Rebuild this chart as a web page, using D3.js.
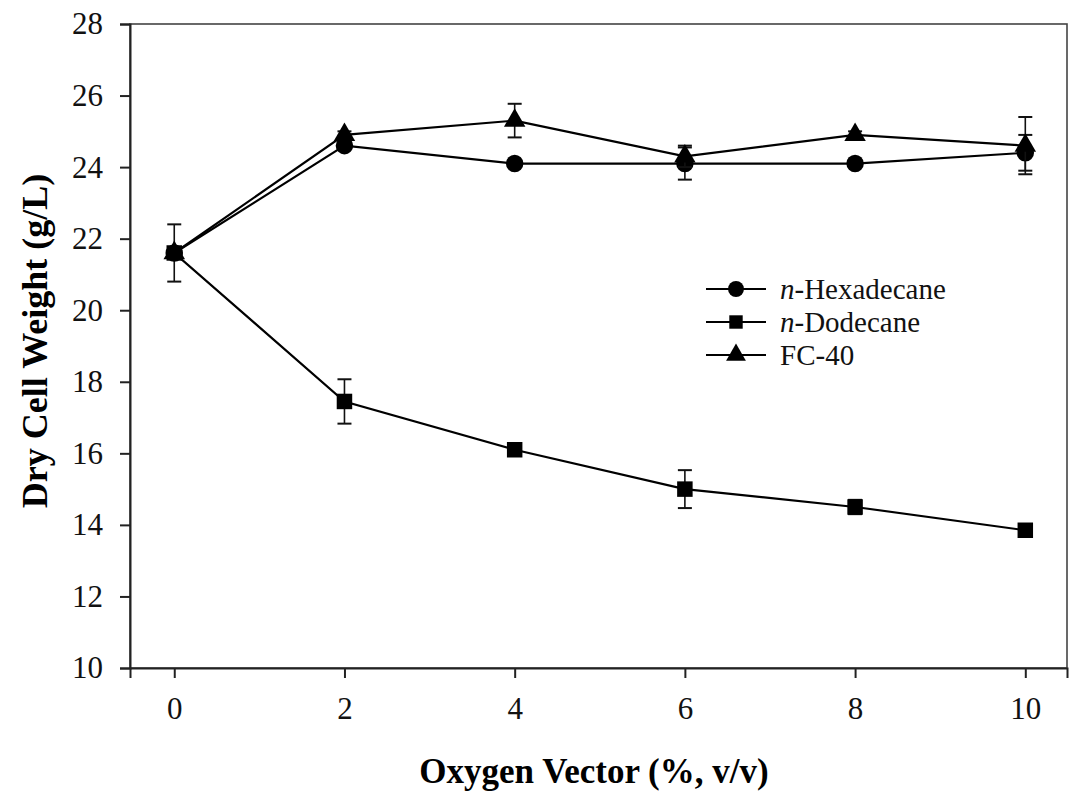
<!DOCTYPE html>
<html>
<head>
<meta charset="utf-8">
<script src="https://cdn.jsdelivr.net/npm/d3@7"></script>
<style>
  body { margin: 0; background: #fff; }
  svg { display: block; font-family: "Liberation Serif", "Times New Roman", serif; }
</style>
</head>
<body>
<div id="showBox"></div>
<script>
// oxygen vector concentration (%, v/v)
const xVals = [0, 2, 4, 6, 8, 10];
const xTicks = [0, 2, 4, 6, 8, 10];
const yTicks = [10, 12, 14, 16, 18, 20, 22, 24, 26, 28];

// dry cell weight (g/L) and std deviation
const hexadecane = [21.6, 24.6, 24.1, 24.1, 24.1, 24.4];
const hexadecaneErr = [0.8, 0.1, 0.1, 0.45, 0.1, 0.5];
const dodecane = [21.6, 17.45, 16.1, 15.0, 14.5, 13.85];
const dodecaneErr = [0, 0.62, 0.1, 0.53, 0.2, 0.1];
const fc40 = [21.6, 24.9, 25.3, 24.3, 24.9, 24.6];
const fc40Err = [0, 0.1, 0.47, 0.3, 0.1, 0.8];

const seriesNames = ["n-Hexadecane", "n-Dodecane", "FC-40"];

const width = 1069, height = 795;
const margin = {top: 24, right: 2, bottom: 127, left: 130};

const x = d3.scaleLinear().domain([-0.52, 10.49]).range([margin.left, width - margin.right]);
const y = d3.scaleLinear().domain([10, 28]).range([height - margin.bottom, margin.top]);

const svg = d3.select("#showBox").append("svg")
    .attr("width", width).attr("height", height);

// frame
svg.append("rect")
    .attr("x", x.range()[0]).attr("y", y.range()[1])
    .attr("width", x.range()[1] - x.range()[0])
    .attr("height", y.range()[0] - y.range()[1])
    .attr("fill", "none").attr("stroke", "#444").attr("stroke-width", 1.6);

const xAxis = svg.append("g")
    .attr("transform", `translate(0,${y(10)})`)
    .call(d3.axisBottom(x).tickValues(xTicks).tickSize(10).tickPadding(19).tickFormat(d3.format("d")));
const yAxis = svg.append("g")
    .attr("transform", `translate(${x.range()[0]},0)`)
    .call(d3.axisLeft(y).tickValues(yTicks).tickSize(10).tickPadding(17).tickFormat(d3.format("d")));

[xAxis, yAxis].forEach(a => {
    a.select(".domain").attr("stroke", "#222").attr("stroke-width", 2);
    a.selectAll(".tick line").attr("stroke", "#222").attr("stroke-width", 2);
    a.selectAll("text").attr("font-size", 31).attr("fill", "#111")
        .style("font-family", "Liberation Serif");
});

// axis titles
svg.append("text")
    .attr("x", 594).attr("y", 783)
    .attr("text-anchor", "middle").attr("font-weight", "bold").attr("font-size", 35)
    .text("Oxygen Vector (%, v/v)");
svg.append("text")
    .attr("transform", `translate(47,341) rotate(-90)`)
    .attr("text-anchor", "middle").attr("font-weight", "bold").attr("font-size", 36)
    .text("Dry Cell Weight (g/L)");

const line = d3.line().x((d, i) => x(xVals[i])).y(d => y(d));

const symCircle = d3.symbol().type(d3.symbolCircle).size(240);
const symSquare = d3.symbol().type(d3.symbolSquare).size(240);
const symTri = d3.symbol().type(d3.symbolTriangle).size(200);

const series = [
    {name: seriesNames[0], vals: hexadecane, err: hexadecaneErr, sym: symCircle},
    {name: seriesNames[1], vals: dodecane, err: dodecaneErr, sym: symSquare},
    {name: seriesNames[2], vals: fc40, err: fc40Err, sym: symTri}
];

series.forEach(s => {
    const g = svg.append("g");
    // error bars
    s.vals.forEach((v, i) => {
        if (s.err[i] <= 0) return;
        const cx = x(xVals[i]);
        const y1 = y(v + s.err[i]), y2 = y(v - s.err[i]);
        g.append("line").attr("x1", cx).attr("x2", cx).attr("y1", y1).attr("y2", y2)
            .attr("stroke", "#111").attr("stroke-width", 1.6);
        [y1, y2].forEach(yy => g.append("line")
            .attr("x1", cx - 7).attr("x2", cx + 7).attr("y1", yy).attr("y2", yy)
            .attr("stroke", "#111").attr("stroke-width", 2));
    });
    g.append("path").datum(s.vals).attr("d", line)
        .attr("fill", "none").attr("stroke", "#000").attr("stroke-width", 2.2);
    g.selectAll(".pt").data(s.vals).join("path")
        .attr("transform", (d, i) => `translate(${x(xVals[i])},${y(d)})`)
        .attr("d", s.sym).attr("fill", "#000");
});

// legend
const legend = svg.append("g");
const legY = [289, 322, 355];
series.forEach((s, i) => {
    const ly = legY[i];
    legend.append("line").attr("x1", 706).attr("x2", 766).attr("y1", ly).attr("y2", ly)
        .attr("stroke", "#000").attr("stroke-width", 2.2);
    legend.append("path").attr("transform", `translate(736,${ly})`)
        .attr("d", i === 0 ? d3.symbol().type(d3.symbolCircle).size(200)()
            : i === 1 ? d3.symbol().type(d3.symbolSquare).size(180)()
            : d3.symbol().type(d3.symbolTriangle).size(170)())
        .attr("fill", "#000");
    const t = legend.append("text").attr("x", 780).attr("y", ly + 10).attr("font-size", 29).attr("fill", "#111");
    if (s.name.startsWith("n-")) {
        t.append("tspan").attr("font-style", "italic").text("n");
        t.append("tspan").text(s.name.slice(1));
    } else {
        t.text(s.name);
    }
});
</script>
</body>
</html>
